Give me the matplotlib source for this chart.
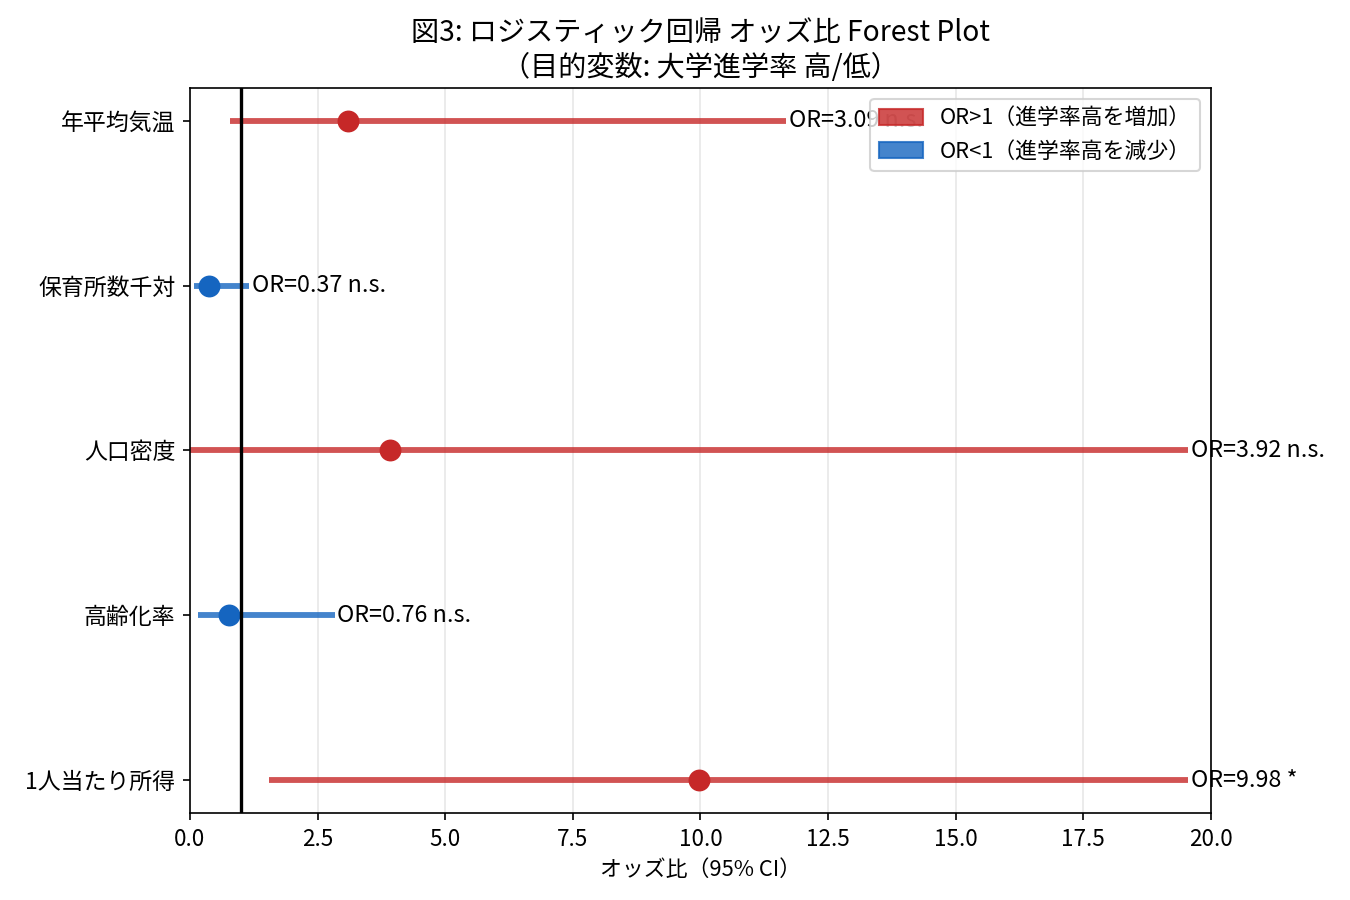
import matplotlib
matplotlib.use('Agg')
import matplotlib.pyplot as plt
from matplotlib.patches import Patch

plt.rcParams['font.family'] = ['Noto Sans CJK JP', 'DejaVu Sans']

# 下から上の順
variables = ['1人当たり所得', '高齢化率', '人口密度', '保育所数千対', '年平均気温']
odds_ratio = [9.98, 0.76, 3.92, 0.37, 3.09]
ci_low = [1.55, 0.16, 0.01, 0.08, 0.78]
ci_high = [19.55, 2.84, 19.55, 1.16, 11.68]
signif = ['*', 'n.s.', 'n.s.', 'n.s.', 'n.s.']

RED = '#c62828'
BLUE = '#1565c0'

fig = plt.figure(figsize=(9, 6), dpi=150)
ax = fig.add_axes([0.1407, 0.0967, 0.7563, 0.8055])

for i, (name, orv, lo, hi, sig) in enumerate(zip(variables, odds_ratio, ci_low, ci_high, signif)):
    c = RED if orv > 1 else BLUE
    ax.plot([lo, hi], [i, i], color=c, linewidth=2.8, alpha=0.8, solid_capstyle='butt')
    ax.plot(orv, i, 'o', color=c, markersize=9.5)
    ax.text(hi + 0.05, i, f'OR={orv:.2f} {sig}', va='center', ha='left', fontsize=11.2)

ax.axvline(1, color='black', linewidth=1.6)

ax.set_yticks(range(len(variables)))
ax.set_yticklabels(variables, fontsize=11)
ax.set_xlim(0, 20)
ax.set_ylim(-0.2, 4.2)
ax.tick_params(axis='x', labelsize=10.8)
ax.grid(axis='x', alpha=0.3)
ax.set_axisbelow(True)
ax.set_xlabel('オッズ比（95% CI）', fontsize=10.5)
ax.set_title('図3: ロジスティック回帰 オッズ比 Forest Plot\n（目的変数: 大学進学率 高/低）', fontsize=13.5)

handles = [
    Patch(facecolor=RED, edgecolor=RED, alpha=0.8, label='OR>1（進学率高を増加）'),
    Patch(facecolor=BLUE, edgecolor=BLUE, alpha=0.8, label='OR<1（進学率高を減少）'),
]
ax.legend(handles=handles, loc='upper right', fontsize=10.5)

fig.savefig('out.png', dpi=150)
